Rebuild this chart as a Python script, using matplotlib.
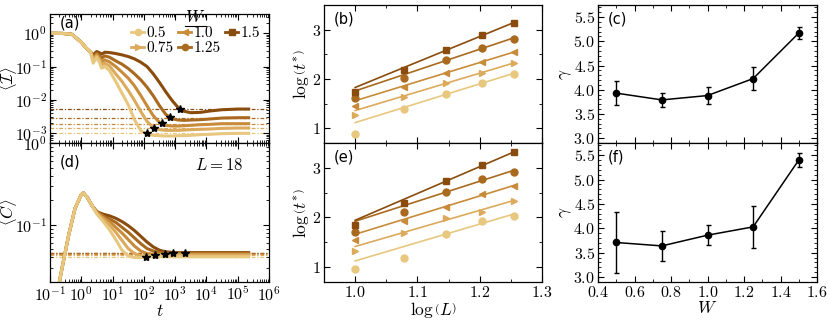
import numpy as np
import matplotlib
matplotlib.use('Agg')
import matplotlib.pyplot as plt
from matplotlib.lines import Line2D
from matplotlib.ticker import MultipleLocator, LogLocator, NullFormatter

plt.rcParams['mathtext.fontset'] = 'cm'
plt.rcParams['font.family'] = 'serif'
plt.rcParams['font.serif'] = ['cmr10', 'DejaVu Serif']
plt.rcParams['axes.formatter.use_mathtext'] = True
plt.rcParams['font.size'] = 12

# disorder strengths and styles
W = [0.5, 0.75, 1.0, 1.25, 1.5]
colors = ['#e8c77f', '#dcaa5c', '#c88b3a', '#a96a1f', '#8a4c0c']
markers = ['o', '>', '<', 'o', 's']

# panel (a): log10 <I> vs log10 t
logt_I = [-1, -0.6, -0.3, 0, 0.15, 0.3, 0.38, 0.49, 0.57, 0.65, 0.75, 0.9, 1.1, 1.3, 1.5,
          1.7, 1.9, 2.1, 2.3, 2.5, 2.7, 2.9, 3.1, 3.3, 3.5, 3.8, 4.1, 4.5, 5.0, 5.35]
logI_05 = [0, -0.005, -0.03, -0.27, -0.44, -0.57, -0.9, -0.72, -0.85, -1.05, -1.0, -1.12, -1.45, -1.8, -2.15,
           -2.6, -2.93, -3.03, -3.07, -3.08, -3.09, -3.09, -3.08, -3.08, -3.07, -3.05, -3.04, -3.02, -3.01, -3.01]
logI_075 = [0, -0.005, -0.03, -0.27, -0.44, -0.57, -0.83, -0.68, -0.78, -0.95, -0.9, -0.98, -1.22, -1.45, -1.72,
            -2.02, -2.35, -2.65, -2.83, -2.9, -2.92, -2.92, -2.92, -2.91, -2.9, -2.89, -2.88, -2.86, -2.85, -2.85]
logI_10 = [0, -0.005, -0.03, -0.27, -0.44, -0.57, -0.76, -0.64, -0.72, -0.86, -0.8, -0.86, -1.0, -1.17, -1.35,
           -1.58, -1.87, -2.18, -2.48, -2.68, -2.77, -2.79, -2.79, -2.78, -2.77, -2.75, -2.74, -2.72, -2.72, -2.72]
logI_125 = [0, -0.005, -0.03, -0.27, -0.44, -0.57, -0.7, -0.6, -0.66, -0.75, -0.68, -0.72, -0.83, -0.93, -1.06,
            -1.22, -1.4, -1.62, -1.88, -2.18, -2.44, -2.57, -2.61, -2.62, -2.61, -2.6, -2.58, -2.55, -2.54, -2.54]
logI_15 = [0, -0.005, -0.03, -0.27, -0.44, -0.57, -0.65, -0.55, -0.58, -0.63, -0.57, -0.58, -0.61, -0.65, -0.7,
           -0.77, -0.87, -1.0, -1.22, -1.48, -1.76, -2.02, -2.24, -2.35, -2.39, -2.38, -2.34, -2.3, -2.28, -2.28]
logI_all = [logI_05, logI_075, logI_10, logI_125, logI_15]
star_logt_I = [2.11, 2.33, 2.58, 2.84, 3.16]
star_logI = [-3.01, -2.84, -2.71, -2.53, -2.27]
sat_logI = [-3.01, -2.85, -2.72, -2.54, -2.28]

# panel (d): log10 <C> vs log10 t
logt_C = [-1, -0.8, -0.6, -0.4, -0.2, 0, 0.07, 0.2, 0.35, 0.5, 0.7, 0.9, 1.1, 1.3, 1.5,
          1.7, 1.9, 2.1, 2.3, 2.5, 2.7, 3.0, 3.5, 4.0, 4.5, 5.0, 5.35]
logC_05 = [-2.3, -1.9, -1.5, -1.12, -0.8, -0.63, -0.61, -0.67, -0.77, -0.87, -0.96, -1.06, -1.18, -1.31, -1.38,
           -1.40, -1.40, -1.39, -1.39, -1.39, -1.39, -1.39, -1.39, -1.39, -1.39, -1.39, -1.39]
logC_075 = [-2.3, -1.9, -1.5, -1.12, -0.8, -0.63, -0.61, -0.67, -0.77, -0.86, -0.93, -1.0, -1.09, -1.19, -1.29,
            -1.35, -1.38, -1.38, -1.37, -1.37, -1.37, -1.37, -1.37, -1.37, -1.37, -1.37, -1.37]
logC_10 = [-2.3, -1.9, -1.5, -1.12, -0.8, -0.63, -0.61, -0.67, -0.77, -0.85, -0.91, -0.96, -1.03, -1.1, -1.18,
           -1.26, -1.32, -1.35, -1.36, -1.36, -1.36, -1.36, -1.36, -1.36, -1.36, -1.36, -1.36]
logC_125 = [-2.3, -1.9, -1.5, -1.12, -0.8, -0.63, -0.61, -0.67, -0.77, -0.84, -0.89, -0.93, -0.97, -1.03, -1.09,
            -1.16, -1.23, -1.29, -1.32, -1.34, -1.35, -1.35, -1.35, -1.35, -1.35, -1.35, -1.35]
logC_15 = [-2.3, -1.9, -1.5, -1.12, -0.8, -0.63, -0.61, -0.67, -0.77, -0.84, -0.87, -0.89, -0.92, -0.96, -1.01,
           -1.07, -1.14, -1.21, -1.27, -1.31, -1.33, -1.34, -1.34, -1.34, -1.34, -1.34, -1.34]
logC_all = [logC_05, logC_075, logC_10, logC_125, logC_15]
star_logt_C = [2.07, 2.35, 2.66, 2.93, 3.32]
star_logC = [-1.39, -1.37, -1.36, -1.35, -1.34]
sat_logC = [-1.39, -1.37, -1.36, -1.35, -1.34]

# panels (b), (e): log t* vs log L
L = [10, 12, 14, 16, 18]
tstar_b = [[0.89, 1.38, 1.70, 1.92, 2.10],
           [1.26, 1.63, 1.92, 2.13, 2.32],
           [1.46, 1.83, 2.13, 2.35, 2.54],
           [1.61, 2.01, 2.38, 2.63, 2.82],
           [1.73, 2.18, 2.58, 2.89, 3.14]]
tstar_e = [[0.96, 1.19, 1.66, 1.93, 2.03],
           [1.33, 1.68, 1.99, 2.12, 2.34],
           [1.55, 1.92, 2.22, 2.47, 2.63],
           [1.71, 2.11, 2.51, 2.78, 2.92],
           [1.85, 2.29, 2.73, 3.05, 3.32]]

# panels (c), (f): exponent gamma vs W
gamma_c = [3.93, 3.79, 3.88, 4.23, 5.17]
gamma_c_err = [0.25, 0.14, 0.17, 0.24, 0.13]
gamma_f = [3.71, 3.64, 3.86, 4.03, 5.40]
gamma_f_err = [0.63, 0.31, 0.20, 0.43, 0.14]

fig = plt.figure(figsize=(8.3, 3.2), dpi=100)
W_px, H_px = 830, 320


def box(l, t, r, b):
    return [l / W_px, (H_px - b) / H_px, (r - l) / W_px, (b - t) / H_px]


ax_a = fig.add_axes(box(50, 14, 269, 143))
ax_d = fig.add_axes(box(50, 143, 269, 282))
ax_b = fig.add_axes(box(324, 5, 542, 143))
ax_e = fig.add_axes(box(324, 143, 542, 282))
ax_c = fig.add_axes(box(598, 5, 817, 143))
ax_f = fig.add_axes(box(598, 143, 817, 282))

for ax in [ax_a, ax_d, ax_b, ax_e, ax_c, ax_f]:
    ax.tick_params(which='both', direction='in', top=True, right=True, labelsize=11.5)
    ax.tick_params(which='major', length=4, width=0.8, pad=2)
    ax.tick_params(which='minor', length=2, width=0.6)
    for s in ax.spines.values():
        s.set_linewidth(0.9)

# time evolution panels
for ax, lt, ys, st, sy, sat in [(ax_a, logt_I, logI_all, star_logt_I, star_logI, sat_logI),
                                (ax_d, logt_C, logC_all, star_logt_C, star_logC, sat_logC)]:
    for i in range(len(W))[::-1]:
        ax.axhline(10 ** sat[i], color=colors[i], lw=0.9, ls=(0, (3, 1.5, 1, 1.5)), zorder=1)
    for i in range(len(W))[::-1]:
        ax.plot(10 ** np.array(lt), 10 ** np.array(ys[i]), color=colors[i], lw=2.2, zorder=2)
    ax.plot(10 ** np.array(st), 10 ** np.array(sy), ls='none', marker='*', color='k', ms=6, zorder=4)
    ax.set_xscale('log')
    ax.set_yscale('log')
    ax.set_xlim(1e-1, 1e6)
    ax.xaxis.set_major_locator(LogLocator(base=10, numticks=20))
    ax.xaxis.set_minor_locator(LogLocator(base=10, subs=np.arange(2, 10), numticks=20))
    ax.xaxis.set_minor_formatter(NullFormatter())
    ax.yaxis.set_minor_formatter(NullFormatter())

ax_a.set_ylim(5e-4, 3.8)
ax_a.tick_params(labelbottom=False)
ax_a.set_ylabel(r'$\langle \mathcal{I} \rangle$', fontsize=12)
ax_a.yaxis.set_label_coords(-0.142, 0.5)
ax_d.set_ylim(0.02, 1.0)
ax_d.set_ylabel(r'$\langle C \rangle$', fontsize=12)
ax_d.yaxis.set_label_coords(-0.142, 0.5)
ax_d.set_xlabel(r'$t$', labelpad=0, fontsize=12.5)
ax_d.text(0.77, 0.84, r'$L = 18$', transform=ax_d.transAxes, ha='center', va='center', fontsize=12)

handles = []
for i in range(len(W)):
    h, = ax_a.plot([], [], color=colors[i], marker=markers[i], ms=4.5, lw=2)
    handles.append(h)
leg = ax_a.legend(handles, [str(w) for w in W], ncol=3, title=r'$W$', loc='upper right',
                  bbox_to_anchor=(0.96, 1.04), frameon=False, fontsize=11, title_fontsize=12.5,
                  handlelength=0.9, handletextpad=0.15, columnspacing=0.25, labelspacing=0.1,
                  borderaxespad=0, borderpad=0)

# scaling panels
logL = np.log10(L)
for ax, data, gam in [(ax_b, tstar_b, gamma_c), (ax_e, tstar_e, gamma_f)]:
    for i in range(len(W)):
        y = np.array(data[i])
        xm, ym = logL[2:].mean(), y[2:].mean()
        xs = np.array([logL[0], logL[-1]])
        ax.plot(xs, ym + gam[i] * (xs - xm), color=colors[i], lw=1.2, zorder=2)
        ax.plot(logL, y, ls='none', marker=markers[i], color=colors[i], ms=5, zorder=3)
    ax.set_xlim(0.95, 1.3)
    ax.set_ylim(0.7, 3.5)
    ax.xaxis.set_major_locator(MultipleLocator(0.1))
    ax.xaxis.set_minor_locator(MultipleLocator(0.05))
    ax.yaxis.set_major_locator(MultipleLocator(1))
    ax.yaxis.set_minor_locator(MultipleLocator(0.5))
    ax.set_ylabel(r'$\log\left(t^{*}\right)$', fontsize=12.5)
    ax.yaxis.set_label_coords(-0.06, 0.5)
ax_b.tick_params(labelbottom=False)
ax_e.set_xlabel(r'$\log\left(L\right)$', labelpad=0, fontsize=12.5)

for ax, g, ge in [(ax_c, gamma_c, gamma_c_err), (ax_f, gamma_f, gamma_f_err)]:
    ax.errorbar(W, g, yerr=ge, color='k', marker='o', ms=4.5, lw=1.1, capsize=1.8, elinewidth=1.0)
    ax.set_xlim(0.4, 1.6)
    ax.set_ylim(2.9, 5.75)
    ax.xaxis.set_major_locator(MultipleLocator(0.2))
    ax.xaxis.set_minor_locator(MultipleLocator(0.1))
    ax.yaxis.set_major_locator(MultipleLocator(0.5))
    ax.yaxis.set_minor_locator(MultipleLocator(0.1))
    ax.set_ylabel(r'$\gamma$', fontsize=12.5)
    ax.yaxis.set_label_coords(-0.11, 0.5)
ax_c.tick_params(labelbottom=False)
ax_f.set_xlabel(r'$W$', labelpad=0, fontsize=12.5)

for ax, lab in [(ax_a, '(a)'), (ax_d, '(d)'), (ax_b, '(b)'), (ax_e, '(e)'), (ax_c, '(c)'), (ax_f, '(f)')]:
    ytop = 0.985 if ax is ax_a else (0.92 if ax is ax_d else 0.955)
    ax.text(0.045, ytop, lab, transform=ax.transAxes, ha='left', va='top', fontsize=10.5,
            family='DejaVu Sans')

# underline the legend title
fig.canvas.draw()
bb = leg.get_title().get_window_extent().transformed(fig.transFigure.inverted())
fig.add_artist(Line2D([bb.x0, bb.x1], [bb.y0 - 0.003, bb.y0 - 0.003], color='k', lw=0.8,
                      transform=fig.transFigure))

fig.savefig('out.png', dpi=100)
